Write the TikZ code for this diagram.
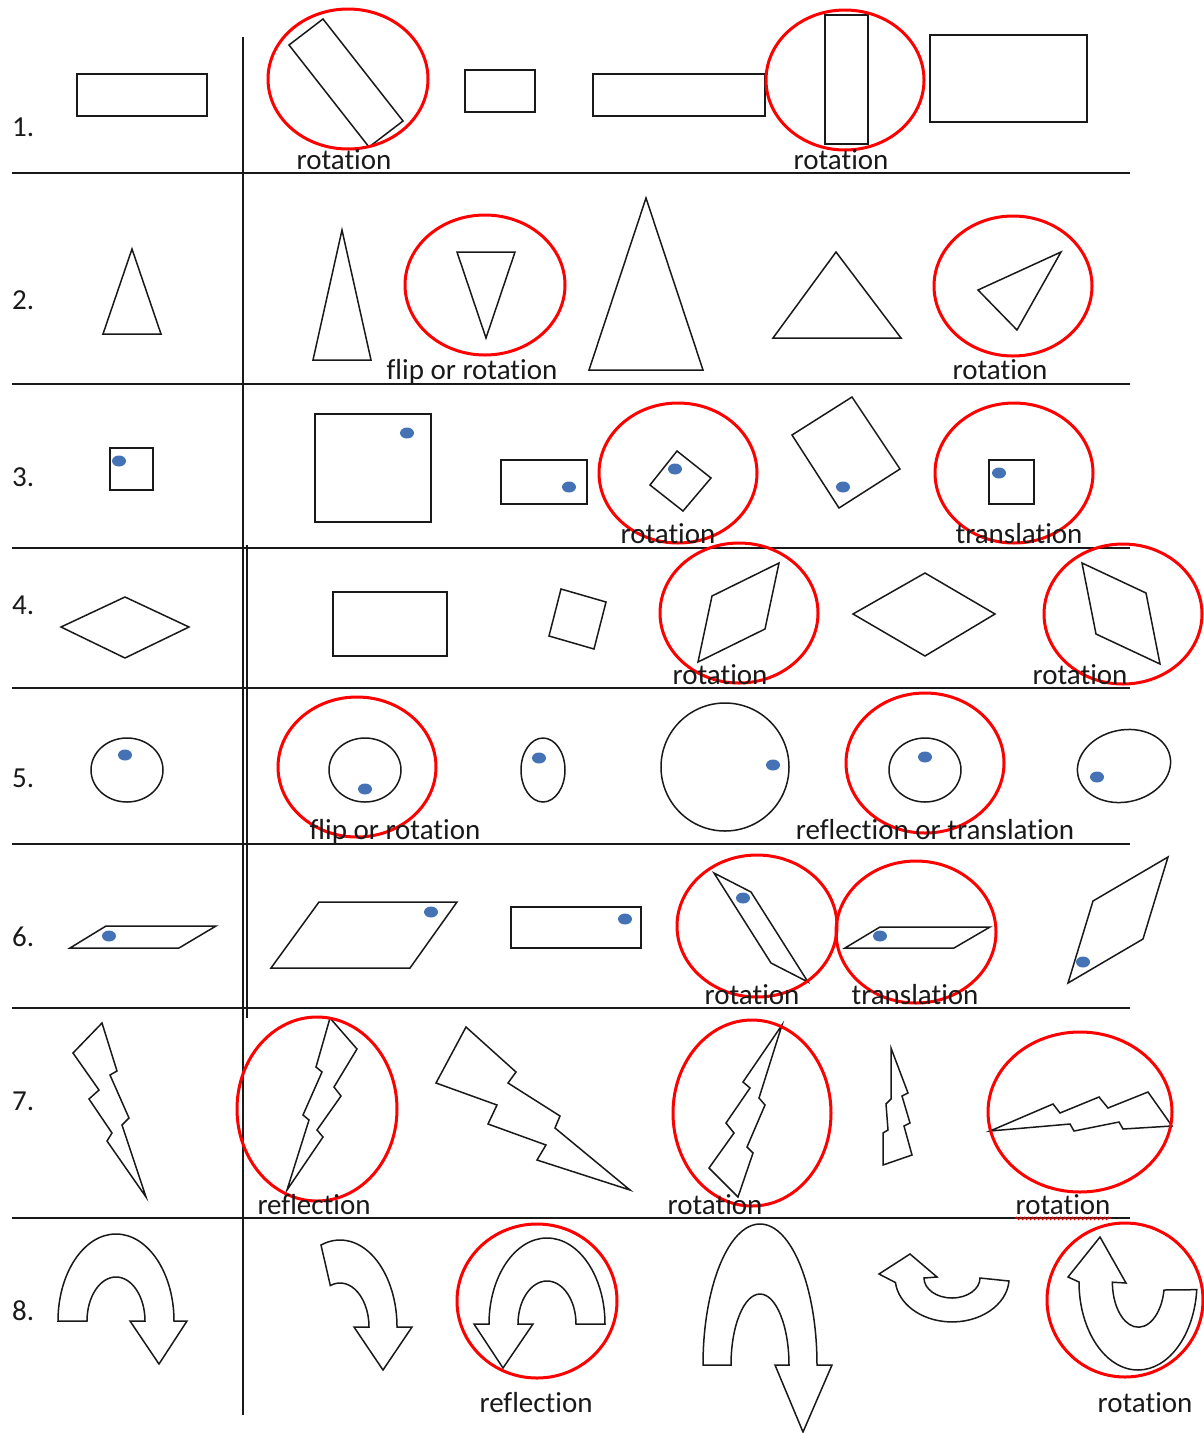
\documentclass[tikz,border=0pt]{standalone}
\usepackage{fontspec}
\setmainfont[Ligatures=NoCommon]{Carlito}
\usetikzlibrary{decorations.pathmorphing}
\definecolor{dotblue}{HTML}{4472B4}

\begin{document}
\begin{tikzpicture}[x=1pt, y=-1pt,
    fig/.style={draw=black!90, line width=1.5pt},
    ring/.style={draw=red, line width=3pt},
    bluedot/.style={fill=dotblue},
    gridline/.style={draw=black!90, line width=1.7pt},
    lbl/.style={font=\fontsize{29}{33}\selectfont, text=black!90, anchor=base, inner sep=0pt},
    rowno/.style={lbl, anchor=base west}
]
    \useasboundingbox (0,0) rectangle (1204,1433);

    % Table rules
    \foreach \y in {173,384,548,688,844,1008,1218}
        \draw[gridline] (12,\y) -- (1130,\y);
    \draw[gridline] (243,37) -- (243,1415);
    \draw[gridline] (247,545) -- (247,1018);

    % Row numbers
    \foreach \n/\y in {1/136,2/309,3/486,4/614,5/787,6/946,7/1110,8/1320}
        \node[rowno] (row\n) at (12,\y) {\n.};

    % Row 1: rectangles
    \draw[fig] (77,74) rectangle (207,116);
    \draw[fig] (289,45) -- (323,19) -- (403,121) -- (369,147) -- cycle;
    \draw[fig] (465,70) rectangle (535,112);
    \draw[fig] (593,74) rectangle (765,116);
    \draw[fig] (825,15) rectangle (868,144);
    \draw[fig] (930,35) rectangle (1087,122);
    \draw[ring] (348,79) ellipse[x radius=80, y radius=70];
    \draw[ring] (845,80) ellipse[x radius=79, y radius=70];

    % Row 2: triangles
    \draw[fig] (103,334) -- (161,334) -- (132,249) -- cycle;
    \draw[fig] (313,360) -- (371,360) -- (342,230) -- cycle;
    \draw[fig] (457,252) -- (515,252) -- (486,338) -- cycle;
    \draw[fig] (589,370) -- (703,370) -- (646,198) -- cycle;
    \draw[fig] (773,338) -- (901,338) -- (836,252) -- cycle;
    \draw[fig] (978,290) -- (1061,252) -- (1017,330) -- cycle;
    \draw[ring] (485,285) ellipse[x radius=80, y radius=70];
    \draw[ring] (1013,286) ellipse[x radius=79, y radius=70];

    % Row 3: squares with a dot
    \draw[fig] (110,448) rectangle (153,490);
    \draw[fig] (315,414) rectangle (431,522);
    \draw[fig] (501,460) rectangle (587,504);
    \draw[fig] (650,485) -- (677,451) -- (711,478) -- (683,511) -- cycle;
    \draw[fig] (792,435) -- (852,397) -- (900,469) -- (839,508) -- cycle;
    \draw[fig] (989,460) rectangle (1034,504);
    \fill[bluedot] (119,461) ellipse[x radius=7, y radius=5.5];
    \fill[bluedot] (407,433) ellipse[x radius=7, y radius=5.5];
    \fill[bluedot] (569,487) ellipse[x radius=7, y radius=5.5];
    \fill[bluedot] (675,469) ellipse[x radius=7, y radius=5.5];
    \fill[bluedot] (843,487) ellipse[x radius=7, y radius=5.5];
    \fill[bluedot] (999,473) ellipse[x radius=7, y radius=5.5];
    \draw[ring] (678,473) ellipse[x radius=79, y radius=70];
    \draw[ring] (1014,473) ellipse[x radius=79, y radius=70];

    % Row 4: rhombi
    \draw[fig] (61,627) -- (125,597) -- (189,627) -- (125,658) -- cycle;
    \draw[fig] (333,592) rectangle (447,656);
    \draw[fig] (549,636) -- (561,589) -- (606,602) -- (594,649) -- cycle;
    \draw[fig] (698,662) -- (712,596) -- (779,563) -- (765,629) -- cycle;
    \draw[fig] (853,614) -- (925,573) -- (995,614) -- (925,656) -- cycle;
    \draw[fig] (1082,563) -- (1146,593) -- (1160,664) -- (1096,634) -- cycle;
    \draw[ring] (739,613) ellipse[x radius=79, y radius=70];
    \draw[ring] (1123,614) ellipse[x radius=79, y radius=70];

    % Row 5: ellipses with a dot
    \draw[fig] (127,770) ellipse[x radius=36, y radius=32];
    \draw[fig] (365,770) ellipse[x radius=36, y radius=32];
    \draw[fig] (543,770) ellipse[x radius=22, y radius=32];
    \draw[fig] (725,767) circle[radius=64];
    \draw[fig] (925,770) ellipse[x radius=36, y radius=32];
    \draw[fig, rotate around={12:(1124,766)}] (1124,766) ellipse[x radius=47, y radius=36];
    \fill[bluedot] (125,755) ellipse[x radius=7, y radius=5.5];
    \fill[bluedot] (365,789) ellipse[x radius=7, y radius=5.5];
    \fill[bluedot] (539,758) ellipse[x radius=7, y radius=5.5];
    \fill[bluedot] (773,765) ellipse[x radius=7, y radius=5.5];
    \fill[bluedot] (925,757) ellipse[x radius=7, y radius=5.5];
    \fill[bluedot] (1097,777) ellipse[x radius=7, y radius=5.5];
    \draw[ring] (357,767) ellipse[x radius=79, y radius=70];
    \draw[ring] (925,763) ellipse[x radius=79, y radius=70];

    % Row 6: parallelograms with a dot
    \draw[fig] (70,948) -- (106,926) -- (216,926) -- (179,948) -- cycle;
    \draw[fig] (271,968) -- (319,902) -- (457,902) -- (410,968) -- cycle;
    \draw[fig] (511,907) rectangle (641,948);
    \draw[fig] (714,873) -- (751,892) -- (808,982) -- (771,963) -- cycle;
    \draw[fig] (845,948) -- (880,927) -- (990,927) -- (954,948) -- cycle;
    \draw[fig] (1068,983) -- (1093,901) -- (1168,857) -- (1143,939) -- cycle;
    \fill[bluedot] (109,936) ellipse[x radius=7, y radius=5.5];
    \fill[bluedot] (431,912) ellipse[x radius=7, y radius=5.5];
    \fill[bluedot] (625,919) ellipse[x radius=7, y radius=5.5];
    \fill[bluedot] (743,898) ellipse[x radius=7, y radius=5.5];
    \fill[bluedot] (880,936) ellipse[x radius=7, y radius=5.5];
    \fill[bluedot] (1083,962) ellipse[x radius=7, y radius=5.5];
    \draw[ring] (757,926) ellipse[x radius=80, y radius=71];
    \draw[ring] (916,932) ellipse[x radius=80, y radius=71];

    % Row 7: lightning bolts
    \draw[fig] (102,1023) -- (73,1053) -- (99,1090) -- (89,1099) -- (112,1133) -- (107,1141) -- (146,1197)
        -- (122,1125) -- (129,1118) -- (110,1075) -- (117,1071) -- cycle;
    \draw[fig] (330,1018) -- (357,1049) -- (334,1087) -- (341,1096) -- (317,1130) -- (323,1137) -- (287,1190)
        -- (309,1120) -- (303,1115) -- (322,1072) -- (316,1067) -- cycle;
    \draw[fig] (466,1027) -- (436,1083) -- (497,1105) -- (488,1124) -- (546,1145) -- (537,1160) -- (630,1190)
        -- (555,1128) -- (560,1116) -- (508,1083) -- (516,1072) -- cycle;
    \draw[fig] (782,1025) -- (743,1082) -- (750,1088) -- (726,1123) -- (734,1133) -- (709,1168) -- (738,1197)
        -- (753,1153) -- (747,1147) -- (765,1105) -- (759,1098) -- cycle;
    \draw[fig] (891,1048) -- (908,1093) -- (902,1096) -- (910,1123) -- (904,1126) -- (912,1155) -- (883,1165)
        -- (883,1133) -- (888,1130) -- (886,1104) -- (891,1099) -- cycle;
    \draw[fig] (990,1131) -- (1053,1104) -- (1060,1113) -- (1099,1097) -- (1108,1108) -- (1148,1092) -- (1172,1126)
        -- (1123,1129) -- (1119,1122) -- (1074,1131) -- (1070,1124) -- cycle;
    \draw[ring] (317,1109) ellipse[x radius=80, y radius=92];
    \draw[ring] (752,1113) ellipse[x radius=79, y radius=93];
    \draw[ring] (1080,1112) ellipse[x radius=92, y radius=80];

    % Row 8: curved arrows
    \draw[fig] (58,1321) arc[start angle=180, end angle=360, x radius=58, y radius=87]
        -- (187,1321) -- (159,1364) -- (130,1321) -- (145,1321)
        arc[start angle=0, end angle=-180, x radius=29, y radius=44] -- cycle;
    \draw[fig] (321,1245) arc[start angle=250.5, end angle=360, x radius=57, y radius=87]
        -- (412,1327) -- (383,1370) -- (354,1327) -- (369,1327)
        arc[start angle=0, end angle=-109.5, x radius=29, y radius=44] -- cycle;
    \draw[fig] (605,1324) arc[start angle=0, end angle=-180, x radius=58, y radius=86]
        -- (474,1324) -- (503,1368) -- (533,1324) -- (518,1324)
        arc[start angle=180, end angle=360, x radius=29, y radius=43] -- cycle;
    \draw[fig] (703,1365) arc[start angle=180, end angle=360, x radius=57, y radius=141]
        -- (832,1365) -- (803,1432) -- (775,1365) -- (789,1365)
        arc[start angle=0, end angle=-180, x radius=29, y radius=71] -- cycle;
    \draw[fig] (1009,1281) arc[start angle=4, end angle=174, x radius=57, y radius=44]
        -- (879,1274) -- (910,1254) -- (937,1277) -- (924,1278)
        arc[start angle=180, end angle=0, x radius=28, y radius=20] -- cycle;
    \draw[fig] (1079,1282) arc[start angle=180, end angle=5, x radius=59, y radius=88]
        -- (1164,1290) arc[start angle=10, end angle=180, x radius=26, y radius=45]
        -- (1126,1283) -- (1100,1237) -- (1068,1277) -- cycle;
    \draw[ring] (537,1301) ellipse[x radius=80, y radius=77];
    \draw[ring] (1125,1300) ellipse[x radius=78, y radius=77];

    % Labels
    \node[lbl] (r1a) at (344,169) {rotation};
    \node[lbl] (r1b) at (841,169) {rotation};
    \node[lbl] (r2a) at (472,379) {flip or rotation};
    \node[lbl] (r2b) at (1000,379) {rotation};
    \node[lbl] (r3a) at (668,543) {rotation};
    \node[lbl] (r3b) at (1019,543) {translation};
    \node[lbl] (r4a) at (720,684) {rotation};
    \node[lbl] (r4b) at (1080,684) {rotation};
    \node[lbl] (r5a) at (395,839) {flip or rotation};
    \node[lbl] (r5b) at (935,839) {reflection or translation};
    \node[lbl] (r6a) at (752,1004) {rotation};
    \node[lbl] (r6b) at (915,1004) {translation};
    \node[lbl] (r7a) at (314,1214) {reflection};
    \node[lbl] (r7b) at (715,1214) {rotation};
    \node[lbl] (r7c) at (1063,1214) {rotation};
    \node[lbl] (r8a) at (536,1412) {reflection};
    \node[lbl] (r8b) at (1145,1412) {rotation};

    % spell-check squiggle
    \draw[red, line width=1pt, decorate, decoration={snake, amplitude=1.2pt, segment length=4pt}]
        ([yshift=-4pt]r7c.south west) -- ([yshift=-4pt]r7c.south east);
\end{tikzpicture}
\end{document}
